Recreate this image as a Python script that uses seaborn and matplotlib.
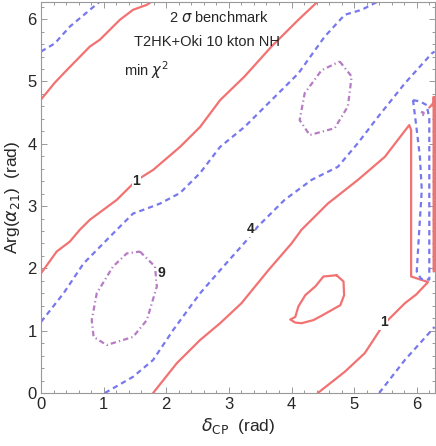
import matplotlib
matplotlib.use("Agg")
import matplotlib.pyplot as plt
from matplotlib.ticker import MultipleLocator
import seaborn as sns
import pandas as pd
import numpy as np

TWO_PI = 2 * np.pi

# contour traces: x = delta_CP, y = Arg(alpha_21), both in rad
# chi2 = 1 (red, solid)
red_a_x = [0, 0.22, 0.41, 0.78, 0.94, 1.26, 1.47, 1.69, 1.77]
red_a_y = [4.71, 4.98, 5.18, 5.56, 5.67, 5.99, 6.15, 6.23, TWO_PI]
red_b_x = [0, 0.25, 0.46, 0.62, 0.78, 1.21, 1.52, 1.79, 2.22, 2.54, 2.86, 3.25, 3.68, 4.11, 4.42]
red_b_y = [1.92, 2.27, 2.43, 2.62, 2.78, 3.10, 3.41, 3.58, 3.95, 4.27, 4.70, 5.08, 5.56, 5.99, TWO_PI]
red_c_x = [1.79, 2.17, 2.54, 2.86, 3.20, 3.63, 4.00, 4.16, 4.58, 5.06, 5.49, 5.88, 5.91, 5.91,
           6.18, 5.99, 5.81, 5.47, 5.17, 4.85, 4.42]
red_c_y = [0, 0.48, 0.85, 1.12, 1.44, 1.97, 2.40, 2.62, 3.04, 3.42, 3.79, 4.30, 4.22, 1.87,
           1.78, 1.58, 1.44, 1.10, 0.64, 0.34, 0]
red_edge_x = [6.20, 6.27, 6.27, 6.27]
red_edge_y = [4.58, 4.66, 4.75, 1.95]
red_edge2_x = [6.27, 6.27]
red_edge2_y = [4.66, 1.95]
red_island_x = [4.72, 4.83, 4.84, 4.78, 4.64, 4.48, 4.35, 4.16, 4.06, 3.98, 4.06, 4.11, 4.22,
                4.38, 4.51, 4.62, 4.72]
red_island_y = [1.89, 1.79, 1.57, 1.41, 1.33, 1.24, 1.17, 1.12, 1.13, 1.18, 1.22, 1.39, 1.57,
                1.71, 1.87, 1.88, 1.89]

# chi2 = 4 (blue, dashed)
blue_a_x = [0, 0.22, 0.46, 0.94]
blue_a_y = [5.48, 5.61, 5.88, TWO_PI]
blue_b_x = [0, 0.36, 0.68, 1.21, 1.47, 1.69, 1.90, 2.22, 2.54, 2.86, 3.25, 3.68, 4.11, 4.53,
            4.85, 5.12, 5.38]
blue_b_y = [1.14, 1.60, 2.08, 2.62, 2.88, 2.96, 3.04, 3.21, 3.53, 3.95, 4.27, 4.70, 5.13, 5.72,
            6.07, 6.15, TWO_PI]
blue_c_x = [1.02, 1.47, 1.79, 2.11, 2.54, 2.86, 3.31, 3.46, 3.89, 4.32, 4.74, 5.06, 5.38, 5.81,
            6.24, TWO_PI]
blue_c_y = [0, 0.26, 0.53, 1.01, 1.60, 1.97, 2.48, 2.67, 3.10, 3.42, 3.63, 4.01, 4.43, 4.97,
            5.45, 5.48]
blue_d_x = [5.40, 5.81, 6.24, TWO_PI]
blue_d_y = [0, 0.53, 1.01, 1.06]
blue_loop_x = [5.94, 6.05, 6.16, 6.20, 6.20, 6.20, 6.07, 6.00, 6.03, 6.06, 6.08, 6.05, 6.00, 5.94]
blue_loop_y = [4.70, 4.68, 4.62, 4.40, 3.00, 1.82, 1.83, 1.95, 2.46, 2.94, 3.26, 3.79, 4.22, 4.70]

# chi2 = 9 (purple, dot-dashed)
purp_a_x = [4.77, 4.96, 4.90, 4.69, 4.29, 4.13, 4.21, 4.48, 4.77]
purp_a_y = [5.32, 5.08, 4.60, 4.25, 4.14, 4.38, 4.81, 5.18, 5.32]
purp_b_x = [1.58, 1.82, 1.85, 1.69, 1.47, 1.05, 0.84, 0.81, 0.89, 1.15, 1.37, 1.58]
purp_b_y = [2.27, 2.03, 1.71, 1.17, 0.90, 0.77, 0.90, 1.17, 1.60, 2.03, 2.24, 2.27]
purp_c_x = [6.07, 6.11, 6.10, 6.07]
purp_c_y = [4.51, 4.50, 4.46, 4.51]

# contour labels
lab_text = ["1", "4", "9", "1"]
lab_x = [1.52, 3.35, 1.92, 5.47]
lab_y = [3.41, 2.63, 1.92, 1.14]

curves = [
    ("ra", "1", red_a_x, red_a_y), ("rb", "1", red_b_x, red_b_y),
    ("rc", "1", red_c_x, red_c_y), ("re", "1", red_edge_x, red_edge_y),
    ("re2", "1", red_edge2_x, red_edge2_y), ("ri", "1", red_island_x, red_island_y),
    ("ba", "4", blue_a_x, blue_a_y), ("bb", "4", blue_b_x, blue_b_y),
    ("bc", "4", blue_c_x, blue_c_y), ("bd", "4", blue_d_x, blue_d_y),
    ("bl", "4", blue_loop_x, blue_loop_y),
    ("pa", "9", purp_a_x, purp_a_y), ("pb", "9", purp_b_x, purp_b_y),
    ("pc", "9", purp_c_x, purp_c_y),
]
rows = []
for seg, lev, xs, ys in curves:
    for x, y in zip(xs, ys):
        rows.append({"seg": seg, "lev": lev, "x": x, "y": y})
df = pd.DataFrame(rows)

sns.set_style("ticks")
plt.rcParams["font.family"] = ["Liberation Sans", "DejaVu Sans"]
plt.rcParams["mathtext.fontset"] = "dejavusans"

fig = plt.figure(figsize=(4.36, 4.46), dpi=100)
ax = fig.add_axes([41 / 436, 53 / 446, 393.5 / 436, 391.5 / 446])

pal = {"1": "#F27272", "4": "#7878EE", "9": "#B67CC4"}
dash = {"1": "", "4": (2.4, 1.8), "9": (2.4, 1.4, 0.6, 1.4)}
sns.lineplot(data=df, x="x", y="y", hue="lev", style="lev", units="seg", estimator=None,
             sort=False, palette=pal, dashes=dash, linewidth=1.6, legend=False, ax=ax)

for t, x, y in zip(lab_text, lab_x, lab_y):
    ax.text(x, y, t, fontsize=10, fontweight="bold", ha="center", va="center", zorder=5,
            bbox=dict(fc="white", ec="none", pad=0.4))

ax.text(2.84, 6.02, r"2 $\sigma$ benchmark", fontsize=10.5, ha="center", va="center")
ax.text(2.65, 5.64, "T2HK+Oki 10 kton NH", fontsize=10.5, ha="center", va="center")
ax.text(1.33, 5.18, r"min $\chi^2$", fontsize=10.5, ha="left", va="center")

ax.set_xlim(0, TWO_PI)
ax.set_ylim(0, TWO_PI)
ax.xaxis.set_major_locator(MultipleLocator(1))
ax.yaxis.set_major_locator(MultipleLocator(1))
ax.xaxis.set_minor_locator(MultipleLocator(0.2))
ax.yaxis.set_minor_locator(MultipleLocator(0.2))
ax.tick_params(which="both", direction="in", top=True, right=True, color="#999999",
               labelsize=12, width=0.7)
ax.tick_params(which="major", length=4.5, pad=3)
ax.tick_params(which="minor", length=2.2)
for s in ax.spines.values():
    s.set_color("#999999")
    s.set_linewidth(0.8)

ax.set_xlabel(r"$\delta_{\rm CP}$  (rad)", fontsize=12.5, labelpad=3)
ax.set_ylabel(r"Arg($\alpha_{21}$)  (rad)", fontsize=12.5, labelpad=4)

fig.savefig("out.png", dpi=100)
